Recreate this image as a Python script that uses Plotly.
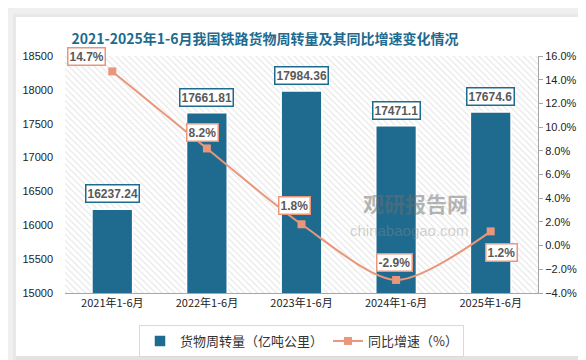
import plotly.graph_objects as go

categories = ["2021年1-6月", "2022年1-6月", "2023年1-6月", "2024年1-6月", "2025年1-6月"]
turnover = [16237.24, 17661.81, 17984.36, 17471.1, 17674.6]
growth = [14.7, 8.2, 1.8, -2.9, 1.2]
turnover_labels = ["16237.24", "17661.81", "17984.36", "17471.1", "17674.6"]
growth_labels = ["14.7%", "8.2%", "1.8%", "-2.9%", "1.2%"]

BAR = "#1E6B8F"
LINE = "#E9967A"
W, H = 586, 360
L, R, T, B = 57, 56, 48, 75
PW, PH = W - L - R, H - T - B


def px(x):
    return (x - L) / PW


def py(y):
    return (H - B - y) / PH


fig = go.Figure()
# decorative hatched plot background (full plot area on hidden axes)
fig.add_trace(go.Bar(
    x=[0.5], y=[1], width=[1], xaxis="x", yaxis="y", showlegend=False, hoverinfo="skip",
    marker=dict(color="#FFFFFF", line=dict(width=0),
                pattern=dict(shape="\\", fgcolor="#C8C8C8", bgcolor="#FFFFFF",
                             size=4.5, solidity=0.25, fillmode="overlay")),
))
fig.add_trace(go.Bar(
    x=categories, y=turnover, name="货物周转量（亿吨公里）",
    marker=dict(color=BAR, line=dict(color="#FFFFFF", width=1.5)),
    width=0.43, xaxis="x2", yaxis="y2",
))
fig.add_trace(go.Scatter(
    x=categories, y=growth, name="同比增速（%）", xaxis="x2", yaxis="y3",
    mode="lines+markers", line=dict(color=LINE, width=2, shape="spline", smoothing=0.8),
    marker=dict(symbol="square", size=8, color=LINE),
))

for c, v, t in zip(categories, turnover, turnover_labels):
    fig.add_annotation(x=c, y=v, xref="x2", yref="y2", text=f"<b>{t}</b>", showarrow=False,
                       yanchor="bottom", yshift=6, bgcolor="#FFFFFF", bordercolor=BAR,
                       borderwidth=1.5, borderpad=1,
                       font=dict(family="Liberation Sans", size=12, color="#595959"))

shifts = [(-26, 15), (-4, 16), (-7, 19), (-2, 17), (11, -21)]
for c, v, t, (dx, dy) in zip(categories, growth, growth_labels, shifts):
    fig.add_annotation(x=c, y=v, xref="x2", yref="y3", text=f"<b>{t}</b>", showarrow=False,
                       xshift=dx, yshift=dy, bgcolor="#FFFFFF", bordercolor=LINE,
                       borderwidth=1.5, borderpad=1,
                       font=dict(family="Liberation Sans", size=12, color="#595959"))

# watermark
fig.add_annotation(xref="paper", yref="paper", x=px(462), y=py(212),
                   text="<b>观研报告网</b>", showarrow=False,
                   font=dict(family="Noto Sans CJK SC", size=21, color="rgba(110,110,110,0.5)"))
fig.add_annotation(xref="paper", yref="paper", x=px(462), y=py(233),
                   text="chinabaogao.com", showarrow=False,
                   font=dict(family="Liberation Sans", size=15, color="rgba(140,140,140,0.4)"))

# card frame (grey page around a white card)
frame = [
    (0, 0, W, 9), (0, 348, W, H), (0, 0, 8, H), (576, 0, W, H),
]
shapes = []
for x0, y0, x1, y1 in frame:
    shapes.append(dict(type="rect", xref="paper", yref="paper", x0=px(x0), x1=px(x1),
                       y0=py(y1), y1=py(y0), fillcolor="#EFEFEF", line=dict(width=0),
                       layer="below"))
shade = [
    (5, 348, 580, 353, "#E2E2E2"), (576, 9, 580, 353, "#E2E2E2"),
    (5, 6, 8, 353, "#E8E8E8"), (5, 6, 580, 9, "#E8E8E8"),
]
for x0, y0, x1, y1, c in shade:
    shapes.append(dict(type="rect", xref="paper", yref="paper", x0=px(x0), x1=px(x1),
                       y0=py(y1), y1=py(y0), fillcolor=c, line=dict(width=0),
                       layer="below"))

fig.update_layout(
    width=W, height=H,
    margin=dict(l=L, r=R, t=T, b=B, autoexpand=False),
    paper_bgcolor="#FFFFFF", plot_bgcolor="#FFFFFF",
    shapes=shapes,
    title=dict(text="<b>2021-2025年1-6月我国铁路货物周转量及其同比增速变化情况</b>",
               x=257 / W, xanchor="center", y=1 - 31 / H, yanchor="middle",
               font=dict(family="Noto Sans CJK SC", size=14, color="#1E6B8F")),
    xaxis=dict(range=[0, 1], visible=False, fixedrange=True),
    yaxis=dict(range=[0, 1], visible=False, fixedrange=True),
    xaxis2=dict(overlaying="x", showline=True, linecolor="#A6A6A6", linewidth=1, ticks="",
                tickfont=dict(family="Noto Sans CJK SC", size=11, color="#222222"),
                showgrid=False),
    yaxis2=dict(overlaying="y", range=[15000, 18500], dtick=500, tickformat="d",
                showgrid=False, zeroline=False, showline=False, ticklabelstandoff=11,
                side="left",
                tickfont=dict(family="Liberation Sans", size=11, color="#222222")),
    yaxis3=dict(range=[-4, 16], dtick=2, overlaying="y", side="right",
                tickformat=".1f", ticksuffix="%", showgrid=False, zeroline=False,
                showline=True, linecolor="#A6A6A6", ticks="outside", ticklen=4,
                tickcolor="#A6A6A6",
                tickfont=dict(family="Liberation Sans", size=11, color="#222222")),
    legend=dict(orientation="h", x=0.5, xanchor="center", y=py(317),
                yanchor="top", bgcolor="#FFFFFF", bordercolor="#D9D9D9", borderwidth=1,
                font=dict(family="Noto Sans CJK SC", size=13, color="#333333"),
                itemwidth=30),
    showlegend=True,
)

fig.write_html("out.html")
